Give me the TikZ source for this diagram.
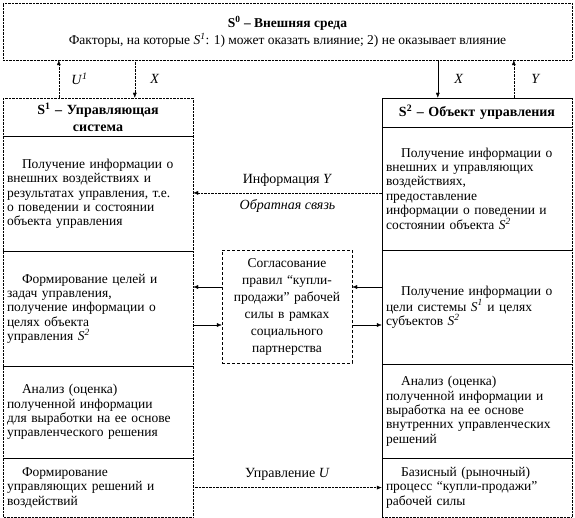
\documentclass[tikz,border=0pt]{standalone}
\usepackage{fontspec}
\setmainfont{Liberation Serif}
\usetikzlibrary{arrows.meta,positioning}
\newcommand{\Sidx}[1]{\textit{S}\textsuperscript{\textit{#1}}}
\tikzset{
  cell/.style={inner xsep=4pt, inner ysep=0pt, text width=182pt, align=left,
    font=\fontsize{13.5}{14.3}\selectfont},
  head/.style={cell, align=center, font=\fontsize{14}{16.5}\selectfont\bfseries},
  arr/.style={-{Latex[length=5pt,width=4pt]}},
  lbl/.style={font=\fontsize{14}{15}\selectfont}
}
\newcommand{\ind}{\hspace*{15pt}}

\begin{document}
\begin{tikzpicture}[x=1pt, y=-1pt]
\useasboundingbox (0,0) rectangle (575,518);
%--- S0: внешняя среда ---
\node[draw, densely dotted, minimum width=569pt, minimum height=57pt, align=center,
  font=\fontsize{13.5}{17}\selectfont] (s0) at (287.5,31.5)
  {\textbf{S\textsuperscript{0} – Внешняя среда}\\
   Факторы, на которые \Sidx{1}: 1) может оказать влияние; 2) не оказывает влияние};

%--- S1: управляющая система ---
\node[head, minimum height=38pt] (l0) at (98,117) {S\textsuperscript{1} – Управляющая\\система};
\node[cell, minimum height=115pt, below=0pt of l0] (l1)
  {\ind Получение информации о\\внешних воздействиях и\\результатах управления, т.е.\\о поведении и состоянии\\объекта управления};
\node[cell, minimum height=114pt, below=0pt of l1] (l2)
  {\ind Формирование целей и\\задач управления,\\получение информации о\\целях объекта\\управления \Sidx{2}};
\node[cell, minimum height=92pt, below=0pt of l2] (l3)
  {\ind Анализ (оценка)\\полученной информации\\для выработки на ее основе\\управленческого решения};
\node[cell, minimum height=58pt, below=0pt of l3] (l4)
  {\ind Формирование\\управляющих решений и\\воздействий};
\foreach \n in {l0,l1,l2,l3}{
  \draw (\n.south west) -- (\n.south east);
}
\draw[densely dotted] (l0.north west) rectangle (l4.south east);

%--- S2: объект управления ---
\node[head, minimum height=29pt] (r0) at (477,112.5) {S\textsuperscript{2} – Объект управления};
\node[cell, minimum height=123pt, below=0pt of r0] (r1)
  {\ind Получение информации о\\внешних и управляющих\\воздействиях,\\предоставление\\информации о поведении и\\состоянии объекта \Sidx{2}};
\node[cell, minimum height=113pt, below=0pt of r1] (r2)
  {\ind Получение информации о\\цели системы \Sidx{1} и целях\\субъектов \Sidx{2}};
\node[cell, minimum height=94pt, below=0pt of r2] (r3)
  {\ind Анализ (оценка)\\полученной информации и\\выработка на ее основе\\внутренних управленческих\\решений};
\node[cell, minimum height=58pt, below=0pt of r3] (r4)
  {\ind Базисный (рыночный)\\процесс “купли-продажи”\\рабочей силы};
\foreach \n in {r0,r1,r2,r3}{
  \draw (\n.south west) -- (\n.south east);
}
\draw (r4.south west) -- (r0.north west) -- (r0.north east);
\draw[densely dotted] (r0.north east) -- (r4.south east) -- (r4.south west);

%--- согласование ---
\node[draw, densely dashed, minimum width=130pt, minimum height=113pt, text width=122pt,
  inner xsep=4pt, align=center, font=\fontsize{13.5}{17}\selectfont] (c) at (287,306.5)
  {Согласование\\правил “купли-\\продажи” рабочей\\силы в рамках\\социального\\партнерства};

%--- связи со средой ---
\draw[arr, densely dotted] (l0.north west) ++(56,0) coordinate (u1) -- (u1 |- s0.south)
  node[midway, right=9pt, lbl] {\textit{U}\textsuperscript{\textit{1}}};
\draw[arr, densely dotted] (l0.north west) ++(132,0) coordinate (x1) (x1 |- s0.south) -- (x1)
  node[midway, right=12pt, lbl] {\textit{X}};
\draw[arr] (r0.north west) ++(56,0) coordinate (x2) (x2 |- s0.south) -- (x2)
  node[midway, right=13pt, lbl] {\textit{X}};
\draw[arr, densely dotted] (r0.north west) ++(132,0) coordinate (y2) -- (y2 |- s0.south)
  node[midway, right=14pt, lbl] {\textit{Y}};

%--- обратная связь ---
\draw[arr, densely dotted] ([yshift=-4pt]r1.west) -- ([yshift=-4pt]r1.west -| l1.east)
  node[midway, above=3pt, lbl] {Информация \textit{Y}}
  node[midway, below=3pt, lbl] {\textit{Обратная связь}};

%--- согласование целей ---
\draw[arr] ([yshift=19.5pt]c.west) -- ([yshift=19.5pt]c.west -| l2.east);
\draw[arr] ([yshift=-18.5pt]c.west -| l2.east) -- ([yshift=-18.5pt]c.west);
\draw[arr] ([yshift=19.5pt]c.east -| r2.west) -- ([yshift=19.5pt]c.east);
\draw[arr] ([yshift=-18.5pt]c.east) -- ([yshift=-18.5pt]c.east -| r2.west);

%--- управление ---
\draw[arr, densely dotted] (l4.east) -- (r4.west)
  node[midway, above=4pt, lbl] {Управление \textit{U}};
\end{tikzpicture}
\end{document}
